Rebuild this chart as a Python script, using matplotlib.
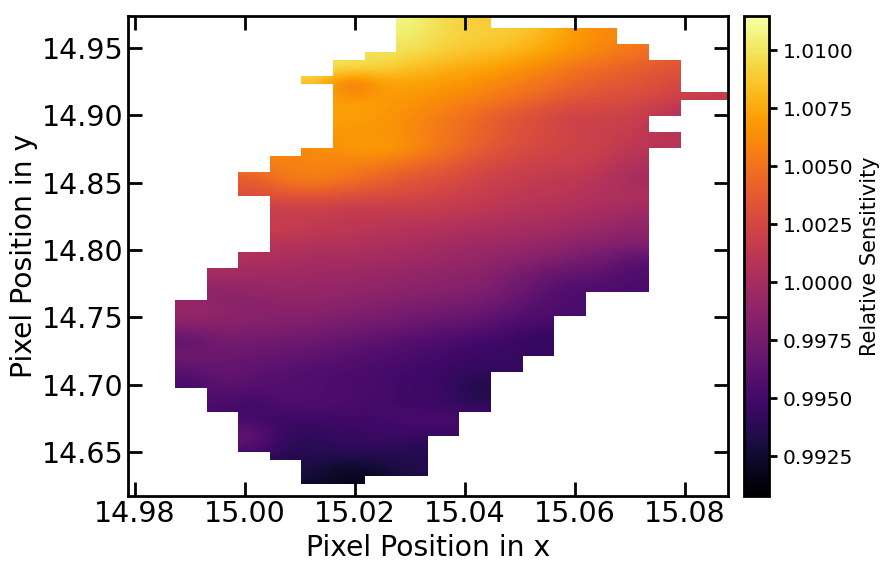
import numpy as np
import matplotlib
matplotlib.use("Agg")
import matplotlib.pyplot as plt
from matplotlib.patches import Polygon

# Relative sensitivity minus one, in units of 1e-4. Rows run top to bottom, columns left to right.
sensitivity_e4 = [
 [108,108,108,108,108,108,108,108, 96, 88, 90, 84, 70, 62, 58, 50, 40, 30],
 [104,104,104,104,104,104,104,104, 94, 92, 90, 82, 70, 62, 58, 50, 40, 30],
 [ 98, 98, 98, 98, 98, 98, 98, 98, 90, 86, 82, 74, 66, 58, 52, 46, 38, 30],
 [100,100,100,100,100,100, 94, 84, 78, 74, 68, 60, 52, 46, 40, 34, 28, 24],
 [ 86, 86, 86, 86, 86, 40, 68, 72, 68, 64, 58, 52, 44, 38, 34, 30, 24, 18],
 [ 70, 70, 70, 70, 70, 70, 70, 66, 62, 56, 50, 42, 34, 30, 28, 22, 16, 17],
 [ 72, 72, 72, 72, 72, 72, 68, 62, 54, 46, 36, 28, 20, 22, 20,  8,  3,  3],
 [ 66, 66, 66, 66, 66, 66, 66, 60, 52, 44, 34, 28, 22, 20, 16,  8, 10, 10],
 [ 62, 62, 62, 62, 62, 68, 72, 64, 52, 42, 32, 26, 22, 20, 12, 10, 10, 10],
 [ 56, 56, 56, 56, 58, 58, 54, 46, 40, 30, 24, 20, 20, 14,  4,  4,  4,  4],
 [ 36, 36, 36, 56, 58, 50, 42, 34, 30, 22, 18, 14, 12,  8, -2, -2, -2, -2],
 [ 32, 32, 32, 32, 34, 30, 28, 26, 22, 18, 14, 12, 10,  4,  6,  6,  6,  6],
 [ 15, 15, 15, 15, 18, 12, 15, 16, 14, 12,  8,  5,  3,  0, -4, -4, -4, -4],
 [ 20, 20, 20, 20, 14, 14, 10,  8,  6,  4,  2,  0, -3, -6,-12,-12,-12,-12],
 [  8,  8,  8,  8,  6,  6,  3,  2, -2, -4, -6, -8,-12,-16,-18,-18,-18,-18],
 [  4,  4,  4,  2,  0,  0, -2, -4, -6, -8,-12,-16,-24,-28,-40,-40,-40,-40],
 [  0,  0, -4, -4, -6, -6, -8,-10,-12,-14,-22,-32,-36,-38,-46,-46,-46,-46],
 [-14,-14,-10, -8, -8,-10,-12,-14,-16,-18,-26,-36,-46,-46,-46,-46,-46,-46],
 [ -6,-10,-16,-14,-14,-16,-20,-22,-26,-28,-34,-42,-46,-46,-46,-46,-46,-46],
 [-14,-14,-16,-18,-20,-24,-26,-30,-34,-36,-44,-48,-48,-48,-48,-48,-48,-48],
 [-38,-24,-26,-28,-30,-34,-38,-42,-46,-50,-52,-60,-60,-60,-60,-60,-60,-60],
 [-26,-30,-32,-34,-36,-40,-44,-46,-50,-54,-56,-56,-56,-56,-56,-56,-56,-56],
 [-40,-32,-38,-40,-44,-46,-48,-52,-54,-60,-56,-56,-56,-56,-56,-56,-56,-56],
 [-50,-36,-42,-42,-44,-46,-48,-52,-54,-68,-68,-68,-68,-68,-68,-68,-68,-68],
 [-46,-46,-54,-42,-44,-46,-50,-52,-54,-62,-62,-62,-62,-62,-62,-62,-62,-62],
 [-50,-50,-50,-54,-52,-52,-50,-46,-46,-46,-46,-46,-46,-46,-46,-46,-46,-46],
 [-30,-30,-30,-60,-60,-56,-54,-56,-56,-56,-56,-56,-56,-56,-56,-56,-56,-56],
 [-46,-46,-46,-64,-62,-60,-60,-66,-66,-66,-66,-66,-66,-66,-66,-66,-66,-66],
 [-66,-66,-66,-66,-70,-80,-74,-64,-64,-64,-64,-64,-64,-64,-64,-64,-64,-64],
 [-76,-76,-76,-76,-76,-84,-78,-70,-70,-70,-70,-70,-70,-70,-70,-70,-70,-70],
]

# Footprint of the detector: runs of fine rows and the column span each run covers.
band_rows = [2, 2, 1, 1, 2, 1, 1, 1, 2, 2, 2, 1, 2, 3, 7, 2, 3, 1, 2, 5, 2, 2, 3, 3, 2, 1, 2, 1]
band_first = [7, 7, 7, 6, 5, 4, 5, 5, 5, 5, 5, 4, 3, 2, 3, 2, 1, 1, 0, 0, 0, 0, 1, 2, 2, 3, 4, 4]
band_stop = [10, 14, 15, 15, 16, 16, 16, 18, 16, 15, 16, 15, 15, 15, 15, 15, 15, 13, 13, 12, 11, 10, 10, 9, 8, 8, 8, 6]

x_start, x_step = 14.98727, 0.005745
y_start, y_step = 14.97671, -0.005935
fine_per_coarse = 2

x_ticks = [14.98, 15.00, 15.02, 15.04, 15.06, 15.08]
y_ticks = [14.65, 14.70, 14.75, 14.80, 14.85, 14.90, 14.95]
cbar_ticks = [0.9925, 0.9950, 0.9975, 1.0000, 1.0025, 1.0050, 1.0075, 1.0100]

W, H = 889, 572
fig = plt.figure(figsize=(W / 100, H / 100), dpi=100)
ax = fig.add_axes([128 / W, 1 - 496 / H, 600 / W, 480 / H])
cax = fig.add_axes([744 / W, 1 - 496 / H, 25 / W, 480 / H])

values = 1 + np.array(sensitivity_e4, dtype=float) * 1e-4
n_rows, n_cols = values.shape
x_left = x_start
x_right = x_start + n_cols * x_step
y_top = y_start
y_bottom = y_start + n_rows * fine_per_coarse * y_step

im = ax.imshow(values, extent=[x_left, x_right, y_bottom, y_top], origin="upper",
               aspect="auto", cmap="inferno", vmin=0.99078, vmax=1.01147,
               interpolation="bicubic", interpolation_stage="data")

# Step outline of the footprint, down the left side then back up the right.
row_edges = np.concatenate([[0], np.cumsum(band_rows)])
left, right = [], []
for i in range(len(band_rows)):
    y0 = y_start + row_edges[i] * y_step
    y1 = y_start + row_edges[i + 1] * y_step
    left += [(x_start + band_first[i] * x_step, y0), (x_start + band_first[i] * x_step, y1)]
    right += [(x_start + band_stop[i] * x_step, y0), (x_start + band_stop[i] * x_step, y1)]
outline = Polygon(left + right[::-1], closed=True, transform=ax.transData,
                  facecolor="none", edgecolor="none")
ax.add_patch(outline)
im.set_clip_path(outline)

ax.set_xlim(14.97873, 15.0878)
ax.set_ylim(14.6174, 14.9737)
ax.set_xticks(x_ticks)
ax.set_xticklabels([f"{t:.2f}" for t in x_ticks])
ax.set_yticks(y_ticks)
ax.set_yticklabels([f"{t:.2f}" for t in y_ticks])
ax.tick_params(axis="both", which="major", direction="in", length=10, width=2,
               top=True, right=True, labelsize=20.5, pad=3)
for s in ax.spines.values():
    s.set_linewidth(2)
ax.set_xlabel("Pixel Position in x", fontsize=20.3, labelpad=4)
ax.set_ylabel("Pixel Position in y", fontsize=20.3, labelpad=3)

cb = fig.colorbar(im, cax=cax)
cb.set_ticks(cbar_ticks)
cb.set_ticklabels([f"{t:.4f}" for t in cbar_ticks])
cb.ax.tick_params(length=6, width=2, labelsize=14.5, pad=4)
cb.outline.set_linewidth(2)
cb.set_label("Relative Sensitivity", fontsize=15, labelpad=4.5)

fig.savefig("out.png", dpi=100)
